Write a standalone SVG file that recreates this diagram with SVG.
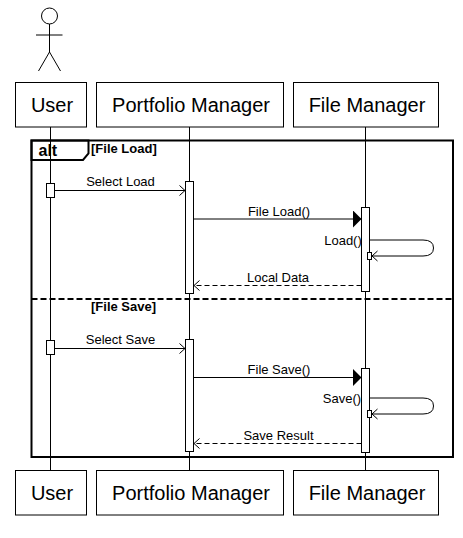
<svg xmlns="http://www.w3.org/2000/svg" width="463" height="538" viewBox="0 0 463 538">
<style>
text{font-family:"Liberation Sans",Arial,sans-serif;fill:#000}
.n{font-size:20px;text-anchor:middle}
.m{font-size:13px;text-anchor:middle}
.g{font-size:13px;font-weight:bold}
.b{fill:#fff;stroke:#000;stroke-width:1}
.l{fill:none;stroke:#000;stroke-width:1}
.d{stroke-dasharray:5 3}
</style>
<defs>
<marker id="o" markerUnits="userSpaceOnUse" markerWidth="8" markerHeight="12" refX="7" refY="6" orient="auto"><path d="M1 1L6.5 6L1 11" fill="none" stroke="#000"/></marker>
<marker id="f" markerUnits="userSpaceOnUse" markerWidth="10" markerHeight="18" refX="9" refY="9" orient="auto"><path d="M0 0L9 9L0 18Z" fill="#000"/></marker>
</defs>
<g id="actor" class="l"><circle cx="49.5" cy="16" r="8"/><path d="M49.5 24V52M36 35H62.5M49.5 52L38.5 71M49.5 52L60.5 71"/></g>
<g id="lifelines" class="l"><path d="M50.5 127V470.5M189.5 127V470.5M365.5 127V470.5"/></g>
<g id="frame">
<rect x="31.5" y="140.5" width="421.500" height="316.500" fill="none" stroke="#000" stroke-width="2"/>
<path d="M31.500 140.500H88.500V153.500L83 160H31.500Z" fill="none" stroke="#000" stroke-width="2"/>
<path d="M31.500 299H453" fill="none" stroke="#000" stroke-width="2" stroke-dasharray="6 3"/>
<text x="38.500" y="156" font-size="16" font-weight="bold">alt</text>
<text class="g" x="91" y="153">[File Load]</text>
<text class="g" x="91" y="311">[File Save]</text>
</g>
<g id="connectors">
<path class="l" d="M54.500 190.500H185.500" marker-end="url(#o)"/>
<path class="l" d="M193.500 219H361.500" marker-end="url(#f)"/>
<path class="l" d="M369.500 240H423Q433.500 240 433.500 248Q433.500 256 423 256H371.500" marker-end="url(#o)"/>
<path class="l d" d="M361.500 285.500H193.500" marker-end="url(#o)"/>
<path class="l" d="M54.500 348.500H185.500" marker-end="url(#o)"/>
<path class="l" d="M193.500 377.500H361.500" marker-end="url(#f)"/>
<path class="l" d="M369.500 398H423Q433.500 398 433.500 406Q433.500 414 423 414H371.500" marker-end="url(#o)"/>
<path class="l d" d="M361.500 443.500H193.500" marker-end="url(#o)"/>
</g>
<g id="activations">
<rect class="b" x="46.500" y="183.500" width="8" height="14"/>
<rect class="b" x="185.500" y="181.500" width="8" height="112"/>
<rect class="b" x="361.500" y="207.500" width="8" height="84"/>
<rect class="b" x="367.500" y="252.500" width="4" height="7"/>
<rect class="b" x="46.500" y="340.500" width="8" height="14"/>
<rect class="b" x="185.500" y="339.500" width="8" height="112"/>
<rect class="b" x="361.500" y="368.500" width="8" height="84"/>
<rect class="b" x="367.500" y="410.500" width="4" height="7"/>
</g>
<g id="labels">
<text class="m" x="120.500" y="186">Select Load</text>
<text class="m" x="279" y="216">File Load()</text>
<text class="m" x="343" y="245">Load()</text>
<text class="m" x="278" y="282">Local Data</text>
<text class="m" x="120.500" y="344">Select Save</text>
<text class="m" x="279" y="374">File Save()</text>
<text class="m" x="342" y="403">Save()</text>
<text class="m" x="278.500" y="440">Save Result</text>
</g>
<g id="user-top"><rect class="b" x="15.500" y="82.500" width="71" height="44.500"/><text class="n" x="52" y="112">User</text></g>
<g id="pm-top"><rect class="b" x="96.500" y="82.500" width="187" height="44.500"/><text class="n" x="191" y="112">Portfolio Manager</text></g>
<g id="fm-top"><rect class="b" x="293.500" y="82.500" width="145" height="44.500"/><text class="n" x="367" y="112">File Manager</text></g>
<g id="user-bottom"><rect class="b" x="15.500" y="470.500" width="71" height="44.500"/><text class="n" x="52" y="500">User</text></g>
<g id="pm-bottom"><rect class="b" x="96.500" y="470.500" width="187" height="44.500"/><text class="n" x="191" y="500">Portfolio Manager</text></g>
<g id="fm-bottom"><rect class="b" x="293.500" y="470.500" width="145" height="44.500"/><text class="n" x="367" y="500">File Manager</text></g>
</svg>
